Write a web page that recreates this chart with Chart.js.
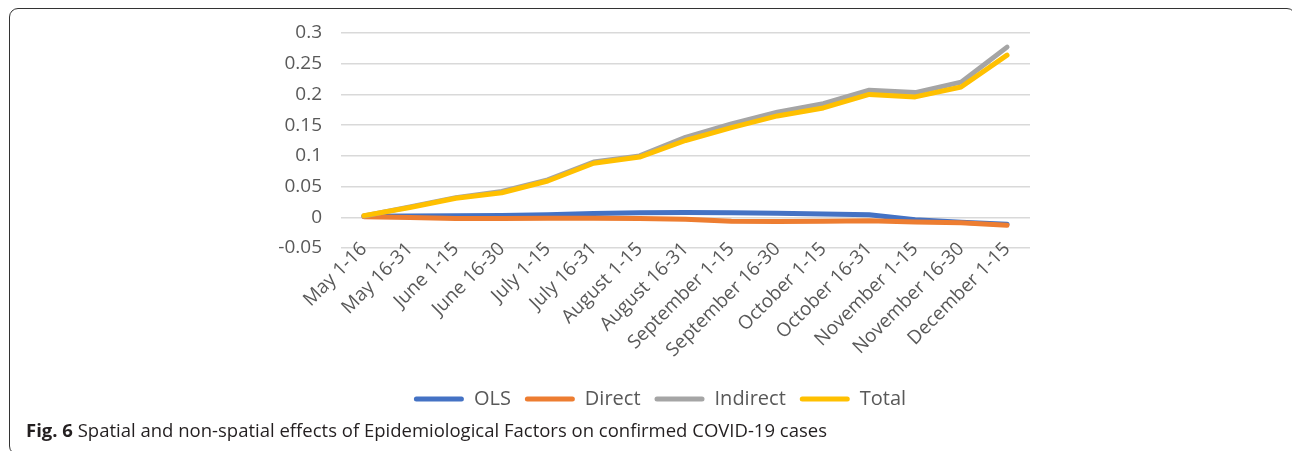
<!DOCTYPE html>
<html>
<head>
<meta charset="utf-8">
<script src="https://cdn.jsdelivr.net/npm/chart.js@4/dist/chart.umd.min.js"></script>
<style>
  html, body { margin: 0; padding: 0; background: #fff; }
  body { width: 1292px; height: 451px; position: relative; overflow: hidden; }
  #frame {
    position: absolute; left: 9px; top: 8px; width: 1287px; height: 447px;
    box-sizing: border-box; border: 1.5px solid #333; border-radius: 9px;
  }
  #wrap { position: absolute; left: 0; top: 0; width: 1292px; height: 451px; }
  #caption {
    position: absolute; left: 26px; top: 420px; white-space: nowrap;
    font-family: "Open Sans", sans-serif; font-size: 18.5px; line-height: 20px; color: #231f20;
  }
  #caption b { font-weight: 700; }
</style>
</head>
<body>
<div id="frame"></div>
<div id="wrap"><canvas id="chart" width="1292" height="451"></canvas></div>
<div id="caption"><b>Fig. 6</b> Spatial and non-spatial effects of Epidemiological Factors on confirmed COVID-19 cases</div>
<script>
// Half-month periods of 2020
const periods = ["May 1-16", "May 16-31", "June 1-15", "June 16-30", "July 1-15", "July 16-31",
  "August 1-15", "August 16-31", "September 1-15", "September 16-30", "October 1-15",
  "October 16-31", "November 1-15", "November 16-30", "December 1-15"];

// Estimated effects per period
const olsEffect      = [0.0015, 0.002, 0.0025, 0.003, 0.004, 0.006, 0.0075, 0.0076, 0.0072, 0.0065, 0.0054, 0.004, -0.004, -0.008, -0.0114];
const directEffect   = [0.001, -0.0005, -0.002, -0.002, -0.0016, -0.0016, -0.002, -0.003, -0.0065, -0.007, -0.0065, -0.0055, -0.0076, -0.009, -0.013];
const indirectEffect = [0.002, 0.017, 0.032, 0.042, 0.061, 0.090, 0.100, 0.130, 0.152, 0.171, 0.185, 0.207, 0.203, 0.220, 0.277];
const totalEffect    = [0.0027, 0.016, 0.031, 0.040, 0.059, 0.088, 0.098, 0.125, 0.146, 0.165, 0.178, 0.200, 0.196, 0.212, 0.264];

// Value axis
const yMin = -0.05, yMax = 0.3, yStep = 0.05;

const FONT = "'Open Sans', sans-serif";
const TEXT = "#595959";

function series(label, data, color, order) {
  return {
    label, data, order,
    borderColor: color, backgroundColor: color,
    borderWidth: 5, pointRadius: 0, pointHoverRadius: 0,
    tension: 0, borderCapStyle: "round", borderJoinStyle: "round", fill: false
  };
}

new Chart(document.getElementById("chart"), {
  type: "line",
  data: {
    labels: periods,
    datasets: [
      series("OLS", olsEffect, "#4472C4", 3),
      series("Direct", directEffect, "#ED7D31", 2),
      series("Indirect", indirectEffect, "#A5A5A5", 1),
      series("Total", totalEffect, "#FFC000", 0)
    ]
  },
  options: {
    responsive: false,
    animation: false,
    layout: { padding: { left: 28, right: 0, top: 33, bottom: 32 } },
    plugins: {
      tooltip: { enabled: false },
      legend: {
        position: "bottom",
        labels: {
          font: { family: FONT, size: 20 },
          color: TEXT,
          boxWidth: 50,
          boxHeight: 5,
          padding: 14,
          useBorderRadius: true,
          borderRadius: 2.5,
          sort: (a, b) => a.datasetIndex - b.datasetIndex,
          generateLabels(chart) {
            const items = Chart.defaults.plugins.legend.labels.generateLabels(chart);
            items.forEach(it => { it.lineWidth = 0; it.fillStyle = it.strokeStyle; });
            return items;
          }
        }
      }
    },
    scales: {
      x: {
        offset: true,
        grid: { display: false },
        border: { display: false },
        ticks: {
          autoSkip: false, maxRotation: 45, minRotation: 45,
          mirror: true, padding: 2,
          color: TEXT, font: { family: FONT, size: 19, lineHeight: 0 }
        },
        afterFit(scale) { scale.height = 127; }
      },
      y: {
        min: yMin, max: yMax,
        grid: { color: "#d9d9d9", lineWidth: 1.5, drawTicks: false },
        border: { display: false },
        ticks: {
          stepSize: yStep, padding: 19,
          color: TEXT, font: { family: FONT, size: 19 },
          callback: v => String(Number(v.toFixed(2)))
        },
        afterFit(scale) { scale.width = 313; }
      },
      // empty right-hand margin of the plot
      yRight: {
        position: "right",
        grid: { display: false },
        border: { display: false },
        ticks: { display: false },
        afterFit(scale) { scale.width = 262; }
      }
    }
  }
});
</script>
</body>
</html>
